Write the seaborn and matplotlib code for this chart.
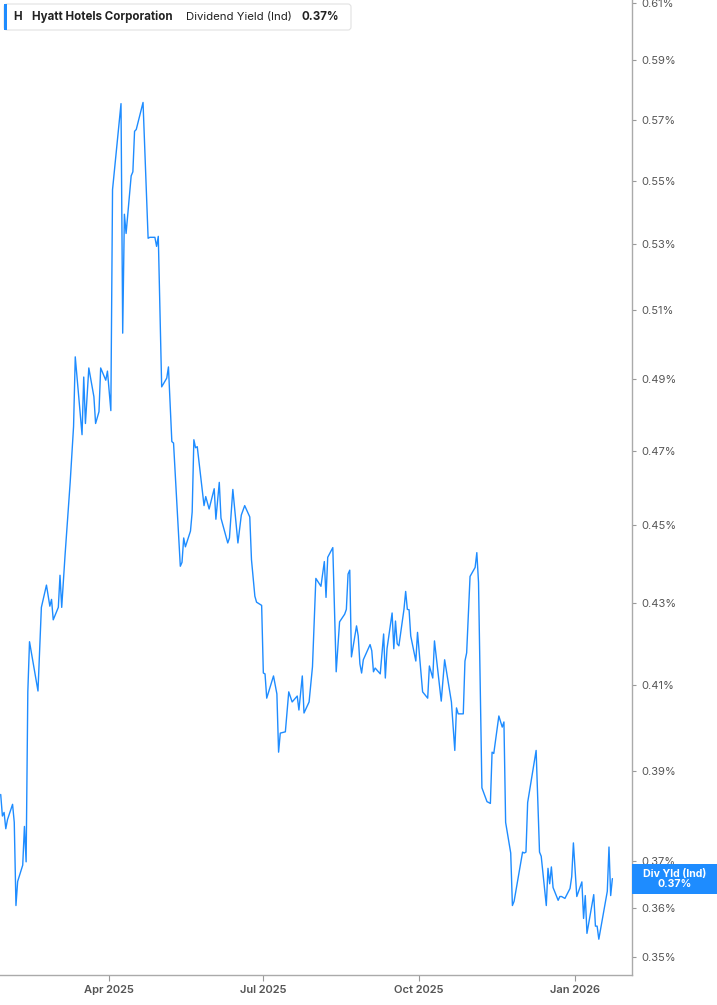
import matplotlib
matplotlib.use("Agg")
import matplotlib.pyplot as plt
import pandas as pd
import seaborn as sns
from matplotlib.patches import Rectangle, FancyBboxPatch
from matplotlib.ticker import FixedLocator, NullLocator, FuncFormatter
from matplotlib.transforms import IdentityTransform

# dividend yield (%), roughly one point per visible vertex
dates = [
    "2025-01-27", "2025-01-28", "2025-01-29", "2025-01-30", "2025-01-31",
    "2025-02-03", "2025-02-04", "2025-02-05", "2025-02-06", "2025-02-09",
    "2025-02-10", "2025-02-11", "2025-02-12", "2025-02-13", "2025-02-18",
    "2025-02-20", "2025-02-23", "2025-02-25", "2025-02-26", "2025-02-27",
    "2025-03-02", "2025-03-03", "2025-03-04", "2025-03-06", "2025-03-09",
    "2025-03-11", "2025-03-12", "2025-03-16", "2025-03-17", "2025-03-18",
    "2025-03-20", "2025-03-23", "2025-03-24", "2025-03-26", "2025-03-27",
    "2025-03-30", "2025-03-31", "2025-04-02", "2025-04-03", "2025-04-08",
    "2025-04-09", "2025-04-10", "2025-04-11", "2025-04-14", "2025-04-15",
    "2025-04-16", "2025-04-17", "2025-04-21", "2025-04-24", "2025-04-25",
    "2025-04-28", "2025-04-29", "2025-04-30", "2025-05-02", "2025-05-05",
    "2025-05-06", "2025-05-08", "2025-05-09", "2025-05-13", "2025-05-14",
    "2025-05-15", "2025-05-16", "2025-05-19", "2025-05-20", "2025-05-21",
    "2025-05-22", "2025-05-23", "2025-05-27", "2025-05-28", "2025-05-30",
    "2025-06-02", "2025-06-03", "2025-06-05", "2025-06-06", "2025-06-10",
    "2025-06-11", "2025-06-13", "2025-06-16", "2025-06-18", "2025-06-20",
    "2025-06-23", "2025-06-24", "2025-06-26", "2025-06-27", "2025-06-30",
    "2025-07-01", "2025-07-02", "2025-07-03", "2025-07-07", "2025-07-09",
    "2025-07-10", "2025-07-11", "2025-07-14", "2025-07-16", "2025-07-18",
    "2025-07-21", "2025-07-22", "2025-07-24", "2025-07-25", "2025-07-28",
    "2025-07-30", "2025-08-01", "2025-08-04", "2025-08-06", "2025-08-07",
    "2025-08-08", "2025-08-11", "2025-08-13", "2025-08-15", "2025-08-18",
    "2025-08-19", "2025-08-20", "2025-08-21", "2025-08-22", "2025-08-25",
    "2025-08-26", "2025-08-27", "2025-08-28", "2025-08-29", "2025-09-02",
    "2025-09-03", "2025-09-04", "2025-09-05", "2025-09-08", "2025-09-10",
    "2025-09-11", "2025-09-12", "2025-09-15", "2025-09-16", "2025-09-17",
    "2025-09-18", "2025-09-19", "2025-09-22", "2025-09-23", "2025-09-24",
    "2025-09-25", "2025-09-26", "2025-09-29", "2025-09-30", "2025-10-03",
    "2025-10-06", "2025-10-07", "2025-10-09", "2025-10-10", "2025-10-14",
    "2025-10-16", "2025-10-20", "2025-10-22", "2025-10-23", "2025-10-24",
    "2025-10-27", "2025-10-28", "2025-10-29", "2025-10-31", "2025-11-03",
    "2025-11-04", "2025-11-05", "2025-11-06", "2025-11-07", "2025-11-10",
    "2025-11-12", "2025-11-13", "2025-11-14", "2025-11-17", "2025-11-19",
    "2025-11-20", "2025-11-21", "2025-11-24", "2025-11-25", "2025-11-26",
    "2025-12-01", "2025-12-02", "2025-12-03", "2025-12-04", "2025-12-09",
    "2025-12-11", "2025-12-12", "2025-12-15", "2025-12-16", "2025-12-17",
    "2025-12-18", "2025-12-19", "2025-12-22", "2025-12-23", "2025-12-24",
    "2025-12-26", "2025-12-29", "2025-12-30", "2025-12-31", "2026-01-02",
    "2026-01-05", "2026-01-06", "2026-01-07", "2026-01-08", "2026-01-12",
    "2026-01-13", "2026-01-14", "2026-01-15", "2026-01-20", "2026-01-21",
    "2026-01-22", "2026-01-23",
]
div_yield = [
    0.3847, 0.3799, 0.3807, 0.3771, 0.3791,
    0.3825, 0.3785, 0.3606, 0.3657, 0.3692,
    0.3776, 0.3699, 0.4084, 0.4205, 0.4086,
    0.4290, 0.4346, 0.4293, 0.4310, 0.4259,
    0.4290, 0.4371, 0.4290, 0.4424, 0.4614,
    0.4767, 0.4964, 0.4744, 0.4906, 0.4775,
    0.4932, 0.4850, 0.4775, 0.4808, 0.4932,
    0.4897, 0.4923, 0.4811, 0.5472, 0.5753,
    0.5033, 0.5394, 0.5334, 0.5516, 0.5529,
    0.5661, 0.5667, 0.5757, 0.5319, 0.5322,
    0.5322, 0.5294, 0.5325, 0.4878, 0.4903,
    0.4935, 0.4725, 0.4721, 0.4394, 0.4404,
    0.4467, 0.4444, 0.4485, 0.4535, 0.4730,
    0.4708, 0.4711, 0.4552, 0.4576, 0.4543,
    0.4597, 0.4516, 0.4614, 0.4519, 0.4454,
    0.4467, 0.4595, 0.4454, 0.4527, 0.4552,
    0.4522, 0.4411, 0.4318, 0.4303, 0.4295,
    0.4129, 0.4127, 0.4069, 0.4122, 0.4079,
    0.3943, 0.3987, 0.3990, 0.4084, 0.4060,
    0.4074, 0.4041, 0.4122, 0.4034, 0.4060,
    0.4144, 0.4363, 0.4343, 0.4406, 0.4315,
    0.4417, 0.4442, 0.4132, 0.4254, 0.4273,
    0.4285, 0.4374, 0.4384, 0.4168, 0.4244,
    0.4219, 0.4151, 0.4129, 0.4161, 0.4198,
    0.4183, 0.4132, 0.4141, 0.4127, 0.4224,
    0.4117, 0.4188, 0.4276, 0.4188, 0.4256,
    0.4200, 0.4195, 0.4285, 0.4330, 0.4285,
    0.4284, 0.4219, 0.4158, 0.4228, 0.4084,
    0.4069, 0.4146, 0.4117, 0.4207, 0.4062,
    0.4161, 0.4060, 0.3947, 0.4046, 0.4032,
    0.4032, 0.4158, 0.4178, 0.4368, 0.4391,
    0.4429, 0.4353, 0.4107, 0.3862, 0.3831,
    0.3827, 0.3943, 0.3940, 0.4027, 0.4001,
    0.4013, 0.3785, 0.3718, 0.3606, 0.3615,
    0.3720, 0.3718, 0.3720, 0.3829, 0.3947,
    0.3720, 0.3711, 0.3606, 0.3685, 0.3652,
    0.3688, 0.3644, 0.3617, 0.3625, 0.3625,
    0.3621, 0.3642, 0.3667, 0.3740, 0.3625,
    0.3656, 0.3579, 0.3627, 0.3548, 0.3629,
    0.3563, 0.3563, 0.3536, 0.3636, 0.3731,
    0.3627, 0.3663,
]

y_ticks = [0.35, 0.36, 0.37, 0.39, 0.41, 0.43, 0.45, 0.47, 0.49,
           0.51, 0.53, 0.55, 0.57, 0.59, 0.61]
x_ticks = ["2025-04-01", "2025-07-01", "2025-10-01", "2026-01-01"]
x_tick_labels = ["Apr 2025", "Jul 2025", "Oct 2025", "Jan 2026"]

ticker = "H"
company = "Hyatt Hotels Corporation"
metric = "Dividend Yield (Ind)"
metric_short = "Div Yld (Ind)"
last_label = "0.37%"

BLUE = "#1e8cff"
GREY = "#555555"

df = pd.DataFrame({"date": pd.to_datetime(dates), "yield": div_yield})

sns.set_theme(style="white")
plt.rcParams["font.family"] = ["Inter", "DejaVu Sans"]

W, H = 717, 1005
fig = plt.figure(figsize=(W / 100, H / 100), dpi=100)
ax = fig.add_axes([0, 30 / H, 632 / W, 975 / H])

sns.lineplot(data=df, x="date", y="yield", ax=ax, color=BLUE, linewidth=1.0)

ax.set_yscale("log")
ax.set_ylim(0.3463, 0.6111)
ax.set_xlim(pd.Timestamp("2025-01-26 14:00"), pd.Timestamp("2026-02-03 14:00"))

ax.yaxis.tick_right()
ax.yaxis.set_major_locator(FixedLocator(y_ticks))
ax.yaxis.set_minor_locator(NullLocator())
ax.yaxis.set_major_formatter(FuncFormatter(lambda v, _: f"{v:.2f}%"))
ax.set_xticks(pd.to_datetime(x_ticks))
ax.set_xticklabels(x_tick_labels, fontweight="semibold")
ax.tick_params(axis="y", which="major", right=True, left=False, length=3,
               width=0.8, color="#999999", labelsize=8, labelcolor=GREY, pad=4)
ax.tick_params(axis="x", bottom=True, length=4, width=0.8, color="#999999",
               labelsize=8, labelcolor=GREY, pad=3)
ax.set_xlabel("")
ax.set_ylabel("")

for side in ["left", "top"]:
    ax.spines[side].set_visible(False)
for side in ["right", "bottom"]:
    ax.spines[side].set_color("#aaaaaa")
    ax.spines[side].set_linewidth(1)

# last value tag on the right axis
y_px = ax.transData.transform((ax.get_xlim()[0], div_yield[-1]))[1]
fig.add_artist(Rectangle((632, y_px - 15), W - 632, 30, transform=IdentityTransform(),
                         facecolor=BLUE, edgecolor="none"))
fig.text(675, y_px, f"{metric_short}\n{last_label}", transform=IdentityTransform(),
         ha="center", va="center", color="white", fontsize=7.6, fontweight="bold",
         linespacing=1.0)

# header box top-left
fig.add_artist(FancyBboxPatch((4, H - 30), 347, 26, transform=IdentityTransform(),
                              boxstyle="round,pad=0,rounding_size=3",
                              facecolor="white", edgecolor="#e2e2e2", linewidth=0.8))
fig.add_artist(Rectangle((4, H - 30), 3, 26, transform=IdentityTransform(),
                         facecolor=BLUE, edgecolor="none"))
hy = H - 17
fig.text(13, hy, ticker, transform=IdentityTransform(), va="center",
         fontsize=8.3, fontweight="bold", color="#222222")
fig.text(32, hy, company, transform=IdentityTransform(), va="center",
         fontsize=8.3, fontweight="bold", color="#222222")
fig.text(186, hy, metric, transform=IdentityTransform(), va="center",
         fontsize=8.2, color="#222222")
fig.text(302, hy, last_label, transform=IdentityTransform(), va="center",
         fontsize=8.3, fontweight="bold", color="#222222")

fig.savefig("out.png", dpi=100)
